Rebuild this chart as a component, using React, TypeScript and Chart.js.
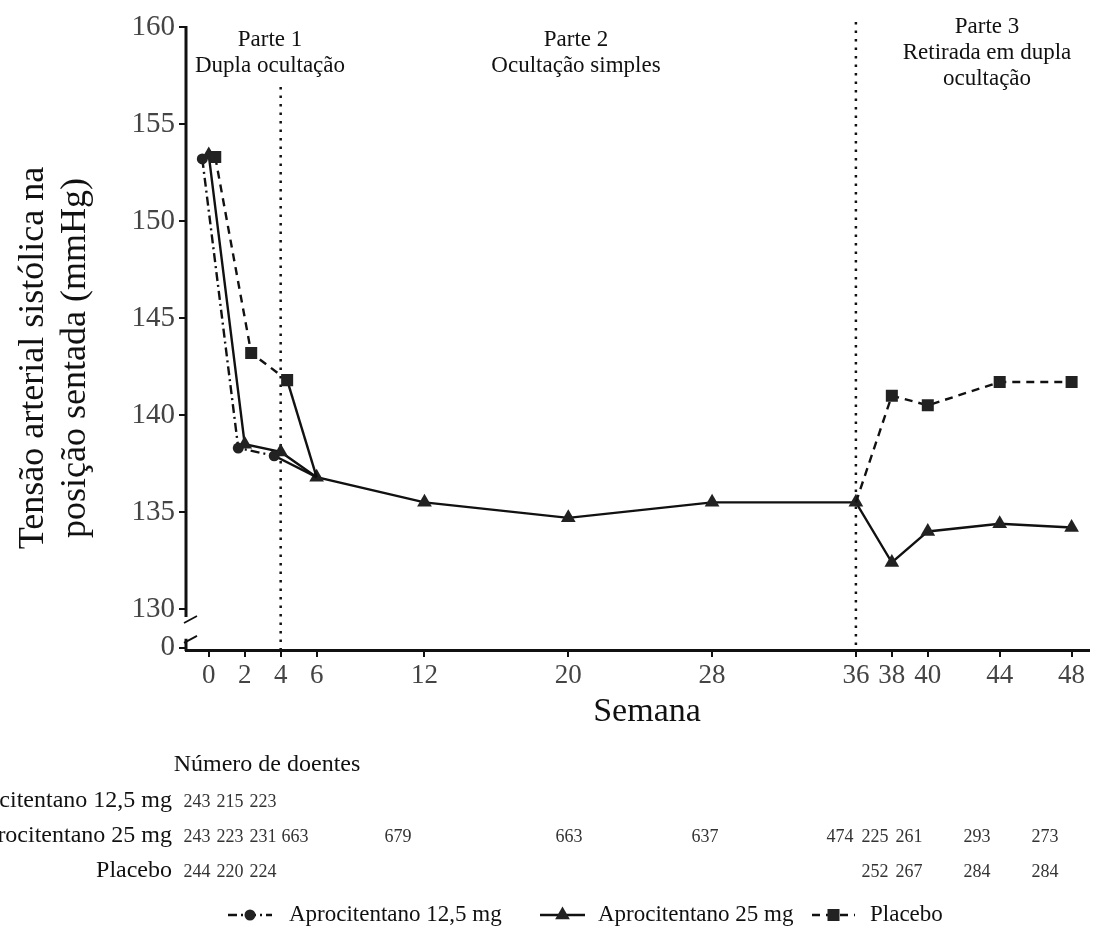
import React, { useEffect, useRef } from 'react';
import { Chart, registerables } from 'chart.js';

Chart.register(...registerables);

// ---------------- Data ----------------
const WEEKS = [0, 2, 4, 6, 12, 20, 28, 36, 38, 40, 44, 48];
const X_TICK_LABELS = WEEKS.map(String);
const Y_TICKS = [130, 135, 140, 145, 150, 155, 160];
const BREAK_VALUE = 128; // position on the broken axis that is labelled "0"
const BREAK_LABEL = '0';
const DODGE = 0.36; // horizontal dodge (weeks) used in Part 1

const SERIES_NAMES = ['Aprocitentano 12,5 mg', 'Aprocitentano 25 mg', 'Placebo'];

const APRO125_WEEKS = [0, 2, 4];
const APRO125_SBP = [153.2, 138.3, 137.9];

const APRO25_SBP = [153.4, 138.5, 138.1, 136.8, 135.5, 134.7, 135.5, 135.5, 132.4, 134.0, 134.4, 134.2];

const PLACEBO_P1_WEEKS = [0, 2, 4];
const PLACEBO_P1_SBP = [153.3, 143.2, 141.8];
const PLACEBO_P3_WEEKS = [38, 40, 44, 48];
const PLACEBO_P3_SBP = [141.0, 140.5, 141.7, 141.7];

const PART_LABELS = [
  ['Parte 1', 'Dupla ocultação'],
  ['Parte 2', 'Ocultação simples'],
  ['Parte 3', 'Retirada em dupla', 'ocultação'],
];
const PART_BOUNDARIES = [4, 36];

const TABLE_TITLE = 'Número de doentes';
const N_APRO125 = [243, 215, 223, null, null, null, null, null, null, null, null, null];
const N_APRO25 = [243, 223, 231, 663, 679, 663, 637, 474, 225, 261, 293, 273];
const N_PLACEBO = [244, 220, 224, null, null, null, null, null, 252, 267, 284, 284];

const Y_TITLE = ['Tensão arterial sistólica na', 'posição sentada (mmHg)'];
const X_TITLE = 'Semana';

// ---------------- Layout / style ----------------
const W = 1097;
const H = 949;
const SERIF = "'Liberation Serif', 'DejaVu Serif', serif";
const INK = '#111';
const MARK = '#222';
const TABLE_COL_X = [197, 230, 263, 295, 398, 569, 705, 840, 875, 909, 977, 1045];
const PART_CENTERS_X = [270, 576, 987];
const DASH_125 = [9, 4, 2, 4];
const DASH_PLACEBO = [8, 6];
const LINE_W = 2.4;
const R_CIRCLE = 5.5;
const R_TRI = 8.5;
const R_SQ = 8.5;

function drawMarker(ctx: CanvasRenderingContext2D, style: string, x: number, y: number, r: number) {
  ctx.save();
  ctx.fillStyle = MARK;
  ctx.setLineDash([]);
  ctx.beginPath();
  if (style === 'circle') {
    ctx.arc(x, y, r, 0, Math.PI * 2);
  } else if (style === 'triangle') {
    ctx.moveTo(x, y - r);
    ctx.lineTo(x + r * 0.866, y + r * 0.5);
    ctx.lineTo(x - r * 0.866, y + r * 0.5);
    ctx.closePath();
  } else {
    const s = r * Math.SQRT1_2;
    ctx.rect(x - s, y - s, 2 * s, 2 * s);
  }
  ctx.fill();
  ctx.restore();
}

const overlayPlugin = {
  id: 'overlay',
  beforeDatasetsDraw(chart: any) {
    const { ctx, chartArea, scales } = chart;
    const x = scales.x;
    ctx.save();
    ctx.strokeStyle = INK;
    ctx.lineWidth = 2.5;
    ctx.setLineDash([2.5, 6]);
    PART_BOUNDARIES.forEach((wk, i) => {
      const px = x.getPixelForValue(wk);
      ctx.beginPath();
      ctx.moveTo(px, i === 0 ? 87 : 22);
      ctx.lineTo(px, chartArea.bottom);
      ctx.stroke();
    });
    ctx.restore();
  },
  afterDraw(chart: any) {
    const { ctx, chartArea, scales } = chart;
    const y = scales.y;
    ctx.save();

    // broken y axis
    const ax = chartArea.left;
    const y130 = y.getPixelForValue(130);
    const y0 = y.getPixelForValue(BREAK_VALUE);
    ctx.strokeStyle = INK;
    ctx.lineWidth = 3;
    ctx.setLineDash([]);
    ctx.beginPath();
    ctx.moveTo(ax, chartArea.top - 1);
    ctx.lineTo(ax, y130 + 8);
    ctx.moveTo(ax, y0 - 9);
    ctx.lineTo(ax, chartArea.bottom + 1);
    ctx.stroke();
    ctx.lineWidth = 1.8;
    ctx.beginPath();
    ctx.moveTo(ax - 2, y130 + 14);
    ctx.lineTo(ax + 11, y130 + 7);
    ctx.moveTo(ax - 2, y0 - 5);
    ctx.lineTo(ax + 11, y0 - 12);
    ctx.stroke();

    // part headers
    ctx.fillStyle = INK;
    ctx.font = `23px ${SERIF}`;
    ctx.textAlign = 'center';
    ctx.textBaseline = 'middle';
    PART_LABELS.forEach((lines, i) => {
      const startY = i === 2 ? 27 : 40;
      lines.forEach((t, j) => ctx.fillText(t, PART_CENTERS_X[i], startY + j * 26));
    });

    // y title
    ctx.save();
    ctx.font = `36px ${SERIF}`;
    ctx.translate(0, 358);
    ctx.rotate(-Math.PI / 2);
    ctx.fillText(Y_TITLE[0], 0, 34);
    ctx.fillText(Y_TITLE[1], 0, 76);
    ctx.restore();

    // x title
    ctx.font = `34px ${SERIF}`;
    ctx.fillText(X_TITLE, 647, 712);

    // table
    ctx.font = `24px ${SERIF}`;
    ctx.fillText(TABLE_TITLE, 267, 765);
    ctx.textAlign = 'right';
    const rowsY = [801, 836, 871];
    const rows = [N_APRO125, N_APRO25, N_PLACEBO];
    SERIES_NAMES.forEach((name, i) => ctx.fillText(name, 172, rowsY[i]));
    ctx.textAlign = 'center';
    ctx.font = `18px ${SERIF}`;
    ctx.fillStyle = '#333';
    rows.forEach((row, i) => {
      row.forEach((n, k) => {
        if (n !== null) ctx.fillText(String(n), TABLE_COL_X[k], rowsY[i] + 1);
      });
    });

    // legend
    const ly = 915;
    const items = [
      { x0: 228, x1: 272, dash: DASH_125, mk: 'circle', r: R_CIRCLE, tx: 289 },
      { x0: 540, x1: 585, dash: [] as number[], mk: 'triangle', r: R_TRI, tx: 598 },
      { x0: 812, x1: 855, dash: DASH_PLACEBO, mk: 'rect', r: R_SQ, tx: 870 },
    ];
    items.forEach((it, i) => {
      ctx.strokeStyle = INK;
      ctx.lineWidth = 2.6;
      ctx.setLineDash(it.dash);
      ctx.beginPath();
      ctx.moveTo(it.x0, ly);
      ctx.lineTo(it.x1, ly);
      ctx.stroke();
      drawMarker(ctx, it.mk, (it.x0 + it.x1) / 2, ly, it.r);
      ctx.fillStyle = INK;
      ctx.font = `23px ${SERIF}`;
      ctx.textAlign = 'left';
      ctx.fillText(SERIES_NAMES[i], it.tx, ly);
    });

    ctx.restore();
  },
};

export default function App() {
  const ref = useRef<HTMLCanvasElement | null>(null);

  useEffect(() => {
    if (!ref.current) return;
    const week6 = { x: WEEKS[3], y: APRO25_SBP[3] };
    const week36 = { x: WEEKS[7], y: APRO25_SBP[7] };

    const apro125 = [
      ...APRO125_WEEKS.map((w, i) => ({ x: w - DODGE, y: APRO125_SBP[i] })),
      week6,
    ];
    const apro25 = WEEKS.map((w, i) => ({ x: w, y: APRO25_SBP[i] }));
    const placeboP1 = [
      ...PLACEBO_P1_WEEKS.map((w, i) => ({ x: w + DODGE, y: PLACEBO_P1_SBP[i] })),
      week6,
    ];
    const placeboP3 = [week36, ...PLACEBO_P3_WEEKS.map((w, i) => ({ x: w, y: PLACEBO_P3_SBP[i] }))];

    const common = {
      borderColor: INK,
      backgroundColor: MARK,
      pointBackgroundColor: MARK,
      pointBorderColor: MARK,
      pointBorderWidth: 0,
      borderWidth: LINE_W,
      tension: 0,
      fill: false,
    };

    const chart = new Chart(ref.current, {
      type: 'line',
      data: {
        datasets: [
          {
            ...common,
            label: SERIES_NAMES[0],
            data: apro125,
            borderDash: DASH_125,
            pointStyle: 'circle',
            pointRadius: apro125.map((_, i) => (i < APRO125_WEEKS.length ? R_CIRCLE : 0)),
            segment: { borderDash: (c: any) => (c.p1DataIndex === APRO125_WEEKS.length ? [] : undefined) },
          },
          {
            ...common,
            label: SERIES_NAMES[2],
            data: placeboP1,
            borderDash: DASH_PLACEBO,
            pointStyle: 'rect',
            pointRadius: placeboP1.map((_, i) => (i < PLACEBO_P1_WEEKS.length ? R_SQ : 0)),
            segment: { borderDash: (c: any) => (c.p1DataIndex === PLACEBO_P1_WEEKS.length ? [] : undefined) },
          },
          {
            ...common,
            label: SERIES_NAMES[2] + ' (Parte 3)',
            data: placeboP3,
            borderDash: DASH_PLACEBO,
            pointStyle: 'rect',
            pointRadius: placeboP3.map((_, i) => (i === 0 ? 0 : R_SQ)),
          },
          {
            ...common,
            label: SERIES_NAMES[1],
            data: apro25,
            pointStyle: 'triangle',
            pointRadius: R_TRI,
          },
        ],
      },
      options: {
        responsive: false,
        animation: false,
        devicePixelRatio: 1,
        events: [],
        layout: { padding: { top: 27, left: 0, right: 0, bottom: H - 650 - 50 } },
        plugins: { legend: { display: false }, tooltip: { enabled: false } },
        scales: {
          x: {
            type: 'linear',
            min: -1.267,
            max: 48.94,
            afterBuildTicks: (s: any) => {
              s.ticks = WEEKS.map((v) => ({ value: v }));
            },
            afterFit: (s: any) => {
              s.height = 50;
            },
            ticks: {
              autoSkip: false,
              maxRotation: 0,
              padding: 3,
              color: '#444',
              font: { family: SERIF, size: 27 },
              callback: (v: any) => {
                const i = WEEKS.indexOf(Number(v));
                return i >= 0 ? X_TICK_LABELS[i] : '';
              },
            },
            grid: { display: true, drawOnChartArea: false, drawTicks: true, tickLength: 7, color: INK, lineWidth: 2 },
            border: { display: true, color: INK, width: 3 },
          },
          y: {
            type: 'linear',
            min: 127.89,
            max: 160,
            afterBuildTicks: (s: any) => {
              s.ticks = [BREAK_VALUE, ...Y_TICKS].map((v) => ({ value: v }));
            },
            afterFit: (s: any) => {
              s.width = 186;
            },
            ticks: {
              autoSkip: false,
              padding: 4,
              color: '#444',
              font: { family: SERIF, size: 29 },
              callback: (v: any) => (Number(v) === BREAK_VALUE ? BREAK_LABEL : String(v)),
            },
            grid: { display: true, drawOnChartArea: false, drawTicks: true, tickLength: 7, color: INK, lineWidth: 2 },
            border: { display: false },
          },
        },
      },
      plugins: [overlayPlugin],
    } as any);

    return () => chart.destroy();
  }, []);

  return (
    <div style={{ position: 'absolute', left: 0, top: 0, width: W, height: H, background: '#fff' }}>
      <canvas ref={ref} width={W} height={H} style={{ width: W, height: H, display: 'block' }} />
    </div>
  );
}
